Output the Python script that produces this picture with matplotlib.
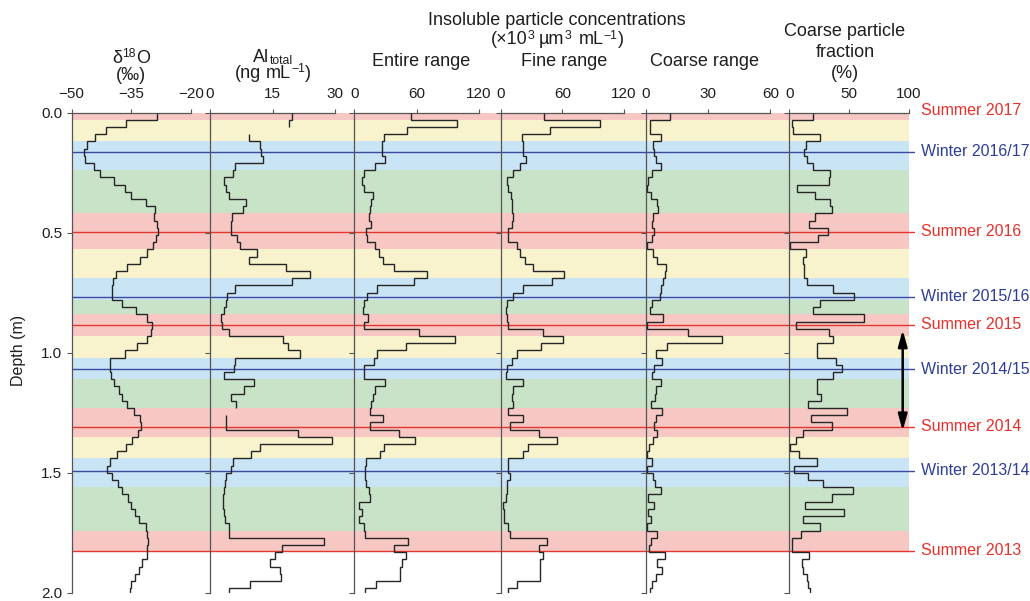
import numpy as np
import matplotlib
matplotlib.use("Agg")
import matplotlib.pyplot as plt

plt.rcParams["font.family"] = ["Liberation Sans", "DejaVu Sans"]
plt.rcParams["axes.unicode_minus"] = True

# ---------------------------------------------------------------- data
# 3 cm core samples from the surface down to 2.0 m
depth_edges = np.r_[np.arange(0.0, 1.99, 0.03), 2.00]

d18o = [-28.4, -36.4, -41.4, -44.1, -46.1, -46.9, -46.5, -44.4, -42.9, -39.3,
        -36.6, -35.0, -31.3, -29.0, -29.2, -28.6, -28.2, -28.8, -29.4, -30.9,
        -32.8, -36.1, -38.7, -39.5, -39.7, -39.9, -37.2, -33.7, -30.9, -29.8,
        -30.1, -31.1, -33.4, -36.6, -40.2, -40.4, -40.0, -39.2, -38.1, -37.2,
        -36.1, -34.3, -32.8, -32.4, -33.2, -34.7, -36.4, -38.5, -40.2, -41.0,
        -39.7, -38.3, -37.4, -35.8, -35.0, -34.0, -32.9, -31.3, -30.9, -30.8,
        -30.9, -31.1, -32.2, -32.9, -33.9, -35.0, -35.3]

al_total = [19.7, 19.0, np.nan, 9.5, 12.0, 12.2, 12.7, 6.1, 5.6, 3.4,
            3.8, 4.6, 8.7, 7.9, 5.4, 5.2, 5.0, 6.5, 7.2, 11.3,
            9.4, 18.3, 24.0, 19.7, 6.1, 4.2, 3.8, 3.4, 2.6, 3.0,
            4.7, 17.6, 18.6, 21.5, 6.1, 5.7, 3.4, 10.5, 8.1, 5.1,
            6.2, np.nan, 3.9, 3.9, 21.1, 29.1, 12.0, 9.9, 5.6, 5.0,
            3.9, 3.6, 3.4, 3.2, 3.1, 3.4, 3.6, 4.7, 4.7, 27.4,
            17.3, 15.7, 14.4, 16.9, 17.0, 9.7, 4.6]

entire_range = [54.4, 98.6, 50.6, 28.2, 26.6, 26.6, 29.1, 20.2, 9.0, 7.4,
                9.0, 17.6, 16.0, 14.7, 13.8, 16.0, 11.5, 12.2, 19.5, 23.4,
                27.5, 37.8, 70.4, 57.6, 21.8, 12.2, 9.0, 8.3, 12.8, 9.0,
                62.4, 97.0, 49.6, 21.8, 18.6, 9.6, 9.0, 29.1, 19.5, 17.6,
                16.0, 15.4, 27.2, 14.7, 42.6, 58.6, 28.2, 25.0, 11.5, 9.9,
                10.6, 11.2, 13.8, 14.7, 4.8, 7.4, 4.2, 9.0, 9.9, 51.2,
                38.4, 49.6, 45.8, 44.2, 44.2, 20.8, 9.9]

fine_range = [42.5, 96.7, 48.0, 20.5, 21.5, 22.1, 24.4, 18.9, 12.4, 5.9,
              6.9, 9.8, 10.8, 10.8, 12.4, 11.4, 7.5, 7.5, 15.6, 18.9,
              23.7, 31.8, 61.7, 49.7, 22.1, 12.4, 5.9, 4.9, 5.9, 6.9,
              41.6, 61.0, 38.9, 15.6, 10.8, 5.9, 5.2, 22.1, 12.4, 11.4,
              12.4, 7.5, 22.1, 9.1, 37.7, 55.2, 27.0, 21.5, 7.5, 7.5,
              9.1, 5.9, 5.9, 4.9, 2.7, 3.3, 3.6, 7.5, 9.1, 45.4,
              37.7, 40.9, 38.3, 38.3, 38.3, 15.6, 6.9]

coarse_range = [11.5, 1.9, 1.9, 7.5, 3.7, 4.0, 4.8, 7.2, 3.2, 1.1,
                0.8, 2.7, 5.6, 5.9, 3.7, 2.9, 4.0, 2.9, 0.5, 3.7,
                5.3, 9.6, 9.1, 8.5, 7.5, 6.7, 2.9, 2.1, 8.3, 0.5,
                20.5, 36.9, 10.4, 5.1, 8.0, 4.0, 3.2, 7.2, 4.8, 4.3,
                2.7, 8.0, 4.8, 4.0, 5.3, 3.7, 1.6, 0.8, 3.2, 0.8,
                3.7, 4.3, 7.2, 1.1, 4.0, 1.1, 2.7, 0.8, 5.3, 2.4,
                1.6, 9.1, 5.6, 8.0, 4.8, 3.2, 2.1]

coarse_fraction = [20.0, 1.9, 3.3, 25.6, 13.6, 12.5, 14.4, 20.0, 34.4, 33.3,
                   6.1, 21.4, 34.4, 35.3, 21.4, 16.4, 32.5, 24.2, 0.6, 13.9,
                   11.7, 12.2, 12.5, 14.4, 36.7, 53.9, 25.6, 19.4, 62.5, 5.3,
                   33.1, 36.7, 22.8, 22.8, 39.4, 44.4, 36.1, 22.8, 22.8, 26.9,
                   15.8, 48.3, 17.8, 35.3, 11.7, 5.6, 0.6, 8.3, 23.3, 3.9,
                   15.8, 28.3, 52.8, 35.8, 13.1, 45.8, 11.1, 25.8, 9.7, 1.9,
                   1.9, 16.7, 10.3, 11.7, 14.4, 15.8, 17.2]

# seasonal layers (depth boundaries, season of each layer)
season_edges = [0.00, 0.03, 0.12, 0.24, 0.42, 0.57, 0.69, 0.78, 0.84, 0.93,
                1.02, 1.11, 1.23, 1.35, 1.44, 1.56, 1.74, 1.83]
season_layers = ["summer", "autumn", "winter", "spring"] * 4 + ["summer"]

# annual markers
marker_depths = [0.163, 0.496, 0.767, 0.884, 1.069, 1.308, 1.491, 1.824]
marker_labels = ["Winter 2016/17", "Summer 2016", "Winter 2015/16", "Summer 2015",
                 "Winter 2014/15", "Summer 2014", "Winter 2013/14", "Summer 2013"]
top_label = "Summer 2017"

# double arrow spanning one year of accumulation
arrow_span = (0.905, 1.325)

# ---------------------------------------------------------------- style
season_colors = {"summer": "#f6c7c3", "autumn": "#f8f3cd",
                 "winter": "#c9e4f5", "spring": "#c9e3c8"}
red_line, blue_line = "#e3372f", "#3a4aa3"
red_text, blue_text = "#e8302a", "#2e3d98"
trace_color = "#262626"
spine_color = "#555555"
text_color = "#1e1e1e"

W, H = 1030, 601
fig = plt.figure(figsize=(W / 100, H / 100), dpi=100)
renderer = fig.canvas.get_renderer()


def fx(px):
    return px / W


def fy(py):
    return 1 - py / H


def rich_text(xc, yb, runs, size):
    """Centred line made of plain, raised and lowered runs.

    Each run is (string, scale, rise); rise is in units of the base size.
    A run given as a bare number is a horizontal gap in points.
    """
    px_per_pt = fig.dpi / 72.0
    items, total = [], 0.0
    for run in runs:
        if isinstance(run, (int, float)):
            items.append((None, run * px_per_pt, 0))
            total += run * px_per_pt
            continue
        s, scale, rise = run
        t = fig.text(0, 0, s, fontsize=size * scale, ha="left", va="baseline",
                     color=text_color)
        w = t.get_window_extent(renderer).width
        items.append((t, w, rise))
        total += w
    x = xc - total / 2
    for t, w, rise in items:
        if t is not None:
            t.set_position((fx(x), fy(yb) + rise * size * px_per_pt / H))
        x += w


y_top_px, y_bot_px = 112.5, 593.0
ax_bottom = fy(y_bot_px)
ax_height = fy(y_top_px) - ax_bottom

# background axes holding the seasonal bands and the annual markers
bg_left, band_right, bg_right = 71.5, 909.0, 915.0
bg = fig.add_axes([fx(bg_left), ax_bottom, fx(bg_right - bg_left), ax_height],
                  zorder=0)
bg.set_xlim(0, 1)
bg.set_ylim(2.0, 0.0)
bg.axis("off")
band_xmax = (band_right - bg_left) / (bg_right - bg_left)
for top, bot, season in zip(season_edges[:-1], season_edges[1:], season_layers):
    bg.axhspan(top, bot, xmin=0, xmax=band_xmax,
               color=season_colors[season], lw=0, zorder=0)

ytrans = bg.get_yaxis_transform()
label_x = (921.0 - bg_left) / (bg_right - bg_left)
for d, lab in zip(marker_depths, marker_labels):
    is_summer = lab.startswith("Summer")
    bg.axhline(d, xmin=0, xmax=1, color=red_line if is_summer else blue_line,
               lw=1.0, zorder=1)
    bg.text(label_x, d, lab, transform=ytrans, ha="left", va="center",
            fontsize=11.5, color=red_text if is_summer else blue_text,
            clip_on=False)
bg.text(label_x, -0.008, top_label, transform=ytrans, ha="left", va="center",
        fontsize=11.5, color=red_text, clip_on=False)

arrow_x = (902.7 - bg_left) / (bg_right - bg_left)
bg.annotate("", xy=(arrow_x, arrow_span[0]), xytext=(arrow_x, arrow_span[1]),
            xycoords=ytrans, textcoords=ytrans,
            arrowprops=dict(arrowstyle="<|-|>,head_length=0.65,head_width=0.18",
                            mutation_scale=15, color="black", lw=1.8,
                            shrinkA=0, shrinkB=0))

# ---------------------------------------------------------------- panels
panels = [
    (71.5, 190.7, (-50, -20), [-50, -35, -20], d18o),
    (209.7, 335.3, (0, 30), [0, 15, 30], al_total),
    (354.3, 479.0, (0, 120), [0, 60, 120], entire_range),
    (500.7, 624.0, (0, 120), [0, 60, 120], fine_range),
    (645.7, 770.3, (0, 60), [0, 30, 60], coarse_range),
    (789.3, 909.0, (0, 100), [0, 50, 100], coarse_fraction),
]

for k, (left, right, xlim, xticks, values) in enumerate(panels):
    ax = fig.add_axes([fx(left), ax_bottom, fx(right - left), ax_height], zorder=2)
    ax.patch.set_visible(False)
    ax.stairs(np.asarray(values, dtype=float), depth_edges,
              orientation="horizontal", baseline=None,
              color=trace_color, lw=1.0, zorder=3)
    ax.set_xlim(*xlim)
    ax.set_ylim(2.0, 0.0)
    ax.set_xticks(xticks)
    ax.set_yticks([0.0, 0.5, 1.0, 1.5, 2.0])
    ax.set_yticklabels(["0.0", "0.5", "1.0", "1.5", "2.0"])
    for side in ("bottom", "right"):
        ax.spines[side].set_visible(False)
    for side in ("top", "left"):
        ax.spines[side].set_color(spine_color)
        ax.spines[side].set_linewidth(0.9)
    ax.xaxis.set_ticks_position("top")
    ax.tick_params(axis="x", direction="out", length=3, width=0.8, pad=5,
                   labelsize=11, color=spine_color, labelcolor=text_color)
    ax.tick_params(axis="y", direction="out", length=3.5, width=0.8, pad=3,
                   labelsize=11, color=spine_color, labelcolor=text_color,
                   labelleft=(k == 0))

# ---------------------------------------------------------------- headings
hs = 13
SUP = (0.68, 0.33)
SUB = (0.68, -0.06)
fig.text(fx(19), fy(350), "Depth (m)", rotation=90, ha="center", va="center",
         fontsize=11.5, color=text_color)

rich_text(131, 63, [("δ", 1, 0), ("18",) + SUP, ("O", 1, 0)], hs)
rich_text(131, 79.5, [("(‰)", 1, 0)], hs)

rich_text(273, 62.5, [("Al", 1, 0), ("total",) + SUB], hs)
rich_text(273, 78, [("(ng", 1, 0), 3.6, ("mL", 1, 0), ("−1",) + SUP,
                    (")", 1, 0)], hs)

rich_text(557, 25, [("Insoluble particle concentrations", 1, 0)], hs)
rich_text(557, 44.5, [("(×10", 1, 0), ("3",) + SUP, 3.6, ("µm", 1, 0),
                      ("3",) + SUP, 5.5, ("mL", 1, 0), ("−1",) + SUP,
                      (")", 1, 0)], hs)

for xc, lab in [(421, "Entire range"), (564, "Fine range"), (704, "Coarse range")]:
    rich_text(xc, 66.5, [(lab, 1, 0)], hs)

for yb, lab in [(35.5, "Coarse particle"), (57, "fraction"), (77.5, "(%)")]:
    rich_text(845, yb, [(lab, 1, 0)], hs)

fig.savefig("out.png", dpi=100)
